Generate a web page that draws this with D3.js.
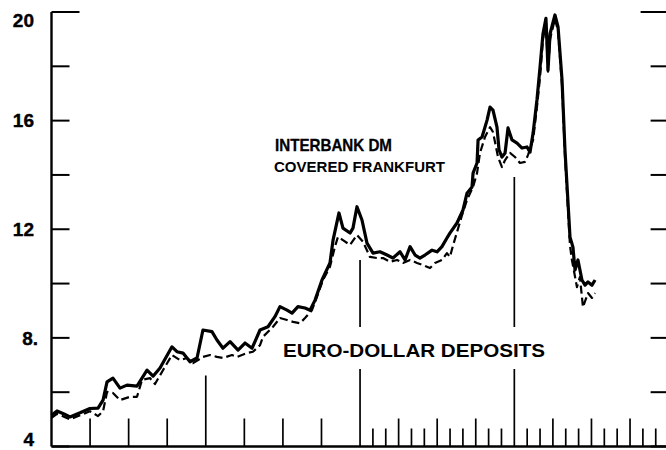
<!DOCTYPE html>
<html>
<head>
<meta charset="utf-8">
<script src="https://cdn.jsdelivr.net/npm/d3@7"></script>
<style>
  body { margin: 0; background: #fff; }
  text { font-family: "Liberation Sans", Arial, sans-serif; fill: #000; }
</style>
</head>
<body>
<div id="chart"></div>
<script>
// months since start of the period, and rates in percent
const interbankMonth = [0, 0.43, 0.97, 1.44, 2.22, 2.99, 3.62, 4.01, 4.32, 4.78, 5.33, 5.87, 6.65, 7.43, 7.9, 8.44,
  9.37, 9.76, 10.23, 10.77, 11.32, 11.78, 12.48, 12.87, 13.34, 13.89, 14.51, 15.05, 15.6, 16.22, 16.84, 17.38,
  17.77, 18.32, 18.71, 19.17, 19.72, 20.11, 20.5, 21.04, 21.66, 21.9, 22.36, 22.67, 23.22, 23.45, 23.76, 24.15,
  24.54, 25.01, 25.55, 26.1, 26.56, 27.11, 27.5, 27.89, 28.28, 28.66, 29.05, 29.6, 29.99, 30.37, 30.76, 30.99,
  31.54, 32.01, 32.32, 32.71, 32.79, 33.1, 33.18, 33.49, 33.88, 34.11, 34.34, 34.65, 34.81, 35.04, 35.28, 35.51,
  35.82, 36.21, 36.6, 36.99, 37.22, 37.46, 37.76, 38.0, 38.23, 38.46, 38.54, 38.62, 38.78, 39.16, 39.4, 39.71,
  39.94, 40.33, 40.56, 40.72, 40.95, 41.26, 41.5, 41.73, 42.04, 42.28];
const interbankRate = [5.15, 5.31, 5.2, 5.09, 5.24, 5.4, 5.41, 5.71, 6.38, 6.52, 6.15, 6.26, 6.22, 6.81, 6.59, 6.89,
  7.67, 7.49, 7.44, 7.12, 7.26, 8.29, 8.23, 7.92, 7.62, 7.86, 7.55, 7.81, 7.62, 8.29, 8.41, 8.78,
  9.15, 9.02, 8.91, 9.15, 9.1, 9.02, 9.39, 10.13, 10.76, 11.6, 12.6, 12.04, 11.86, 12.04, 12.83, 12.34,
  11.49, 11.12, 11.17, 11.05, 10.94, 11.17, 10.87, 11.36, 11.05, 10.94, 11.05, 11.23, 11.17, 11.36, 11.68, 11.86,
  12.23, 12.71, 13.33, 13.56, 14.07, 14.44, 15.29, 15.4, 16.02, 16.5, 16.39, 15.76, 14.92, 14.66, 14.81, 15.73,
  15.29, 15.17, 14.99, 15.03, 14.84, 15.54, 16.76, 17.97, 19.2, 19.77, 18.86, 17.86, 19.2, 19.89, 19.45, 17.5,
  14.92, 11.71, 11.34, 10.5, 10.87, 10.13, 9.94, 10.06, 9.94, 10.13];

const euroMonth = [0, 0.43, 0.97, 1.44, 2.22, 2.99, 3.62, 4.01, 4.32, 4.78, 5.33, 6.11, 6.65, 7.04, 7.66, 8.05,
  8.67, 9.37, 9.99, 10.54, 11.01, 11.78, 12.33, 12.87, 13.34, 14.04, 14.43, 15.21, 15.67, 16.22, 16.45, 17.23,
  17.77, 18.32, 18.79, 19.33, 19.72, 20.26, 20.65, 21.12, 21.66, 22.05, 22.28, 22.67, 23.22, 23.76, 24.23, 24.77,
  25.32, 25.79, 26.33, 26.87, 27.34, 27.89, 28.43, 28.9, 29.44, 29.83, 30.37, 30.76, 30.99, 31.23, 31.89, 32.32,
  32.79, 33.1, 33.33, 33.72, 34.11, 34.34, 34.73, 35.04, 35.28, 35.66, 36.05, 36.44, 36.83, 37.06, 37.46, 37.76,
  38.0, 38.23, 38.46, 38.54, 38.62, 38.78, 39.16, 39.4, 39.71, 39.94, 40.33, 40.48, 40.87, 41.1, 41.34, 41.73,
  42.04, 42.28];
const euroRate = [5.05, 5.2, 5.1, 5.0, 5.15, 5.3, 5.12, 5.3, 6.01, 5.97, 5.71, 5.83, 5.83, 6.45, 6.52, 6.3,
  6.81, 7.37, 7.18, 7.26, 7.07, 7.3, 7.37, 7.3, 7.26, 7.37, 7.3, 7.44, 7.49, 7.73, 8.04, 8.41,
  8.73, 8.66, 8.59, 8.54, 8.73, 9.02, 9.51, 10.13, 10.62, 11.36, 11.72, 11.6, 11.42, 11.79, 11.54, 10.98,
  10.94, 10.94, 10.8, 10.87, 10.76, 10.87, 10.76, 10.68, 10.57, 10.76, 10.87, 11.12, 10.98, 11.4, 12.45, 13.08,
  13.56, 14.07, 14.81, 15.4, 15.76, 15.58, 14.66, 14.29, 14.55, 14.81, 14.66, 14.44, 14.48, 14.73, 15.29, 16.5,
  17.6, 19.0, 19.6, 18.7, 17.8, 19.0, 19.75, 19.3, 17.3, 14.7, 11.4, 10.87, 9.87, 10.24, 9.13, 9.65,
  9.47, 9.65];

const yTickValues = [4, 6, 8, 10, 12, 14, 16, 18, 20];
const yLabelValues = [4, 8, 12, 16, 20];
const yLabels = ["4", "8.", "12", "16", "20"];
const monthTicks = d3.range(0, 49);

const width = 666, height = 450;
const x = d3.scaleLinear().domain([0, 48]).range([51.5, 668.6]);
const y = d3.scaleLinear().domain([4, 20]).range([446.5, 12]);

const svg = d3.select("#chart").append("svg")
    .attr("width", width)
    .attr("height", height);

// axes frame
svg.append("line").attr("x1", x(0)).attr("x2", x(0)).attr("y1", y(20)).attr("y2", y(4))
    .attr("stroke", "#000").attr("stroke-width", 2.4);
svg.append("line").attr("x1", x(0)).attr("x2", x(48)).attr("y1", y(4)).attr("y2", y(4))
    .attr("stroke", "#000").attr("stroke-width", 2.4);
svg.append("line").attr("x1", x(48)).attr("x2", x(48)).attr("y1", y(20)).attr("y2", y(4))
    .attr("stroke", "#000").attr("stroke-width", 2.4);

// y ticks, both sides
yTickValues.forEach(v => {
    const len = v === 20 ? 28 : 18;
    svg.append("line").attr("x1", x(0)).attr("x2", x(0) + len).attr("y1", y(v)).attr("y2", y(v))
        .attr("stroke", "#000").attr("stroke-width", 2);
    svg.append("line").attr("x1", x(48) - len).attr("x2", x(48)).attr("y1", y(v)).attr("y2", y(v))
        .attr("stroke", "#000").attr("stroke-width", 2);
});

yLabelValues.forEach((v, i) => {
    const ty = Math.min(Math.max(y(v), 20), 439);
    svg.append("text")
        .attr("x", yLabels[i].endsWith(".") ? 38 : 34)
        .attr("y", ty)
        .attr("dy", "0.36em")
        .attr("text-anchor", "end")
        .attr("font-size", 19)
        .attr("font-weight", "bold")
        .attr("stroke", "#000").attr("stroke-width", 0.4)
        .text(yLabels[i]);
});

// month ticks along the bottom: quarters in the first two years, months after
monthTicks.forEach(m => {
    if (m === 0 || m === 48) return;
    if (m < 24 && m % 3 !== 0) return;
    const base = y(4);
    if (m === 24 || m === 36) {
        const top = m === 24 ? 260 : 177;
        svg.append("line").attr("x1", x(m)).attr("x2", x(m)).attr("y1", top).attr("y2", 327)
            .attr("stroke", "#000").attr("stroke-width", 1.7);
        svg.append("line").attr("x1", x(m)).attr("x2", x(m)).attr("y1", 369).attr("y2", base)
            .attr("stroke", "#000").attr("stroke-width", 1.7);
        return;
    }
    let h = m % 3 === 0 ? 28 : 18;
    if (m === 12) h = 71;
    svg.append("line").attr("x1", x(m)).attr("x2", x(m)).attr("y1", base - h).attr("y2", base)
        .attr("stroke", "#000").attr("stroke-width", 1.7);
});

const line = d3.line().x(d => x(d[0])).y(d => y(d[1]));

svg.append("path")
    .datum(d3.zip(euroMonth, euroRate))
    .attr("d", line)
    .attr("fill", "none")
    .attr("stroke", "#000")
    .attr("stroke-width", 2.2)
    .attr("stroke-dasharray", "8,4")
    .attr("stroke-linejoin", "round");

svg.append("path")
    .datum(d3.zip(interbankMonth, interbankRate))
    .attr("d", line)
    .attr("fill", "none")
    .attr("stroke", "#000")
    .attr("stroke-width", 3.2)
    .attr("stroke-linejoin", "round");

// series labels
svg.append("text")
    .attr("x", 275).attr("y", 151)
    .attr("font-size", 17).attr("font-weight", "bold")
    .attr("stroke", "#000").attr("stroke-width", 0.3)
    .attr("textLength", 117).attr("lengthAdjust", "spacingAndGlyphs")
    .text("INTERBANK DM");
svg.append("text")
    .attr("x", 274).attr("y", 172)
    .attr("font-size", 14).attr("font-weight", "bold")
    .attr("textLength", 171).attr("lengthAdjust", "spacingAndGlyphs")
    .text("COVERED FRANKFURT");
svg.append("text")
    .attr("x", 283).attr("y", 357)
    .attr("font-size", 19).attr("font-weight", "bold")
    .attr("textLength", 262).attr("lengthAdjust", "spacingAndGlyphs")
    .text("EURO-DOLLAR DEPOSITS");
</script>
</body>
</html>
